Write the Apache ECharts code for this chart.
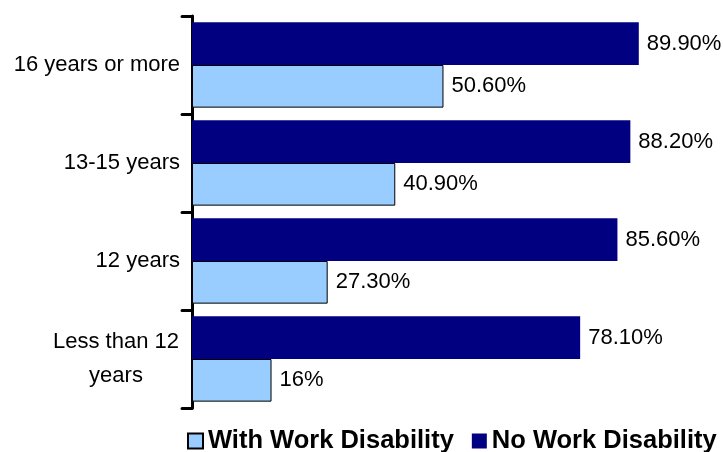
<!DOCTYPE html>
<html>
<head>
<meta charset="utf-8">
<script src="https://cdn.jsdelivr.net/npm/echarts@6/dist/echarts.min.js"></script>
<style>
  html, body { margin: 0; padding: 0; background: #fff; }
  #chart { width: 723px; height: 452px; }
</style>
</head>
<body>
<div id="chart"></div>
<script>
// categories bottom -> top
const categories = ['Less than 12\nyears', '12 years', '13-15 years', '16 years or more']
const withDisability = [16, 27.3, 40.9, 50.6]
const noDisability = [78.1, 85.6, 88.2, 89.9]

const chart = echarts.init(document.getElementById('chart'))

const fmtPct = (v) => (v % 1 === 0 ? v : v.toFixed(2)) + '%'

const labelFont = {
    fontFamily: '"Liberation Sans", Arial, sans-serif',
    fontSize: 22,
    color: '#000'
}

const option = {
    backgroundColor: '#fff',
    animation: false,
    grid: {
        left: 192,
        right: 34,
        top: 16,
        bottom: 44
    },
    legend: {
        left: 182,
        top: 423,
        icon: 'rect',
        itemWidth: 15,
        itemHeight: 15,
        itemGap: 18,
        textStyle: {
            fontFamily: '"Liberation Sans", Arial, sans-serif',
            fontWeight: 'bold',
            fontSize: 25.5,
            color: '#000'
        },
        data: ['With Work Disability', 'No Work Disability']
    },
    xAxis: {
        type: 'value',
        min: 0,
        max: 100,
        show: false
    },
    yAxis: {
        type: 'category',
        data: categories,
        axisLine: {
            lineStyle: { color: '#000', width: 3, cap: 'round' }
        },
        axisTick: {
            show: true,
            length: 10,
            lineStyle: { color: '#000', width: 3, cap: 'round' }
        },
        axisLabel: {
            margin: 12,
            ...labelFont,
            lineHeight: 34,
            formatter: function (v) {
                if (v.indexOf('\n') >= 0) {
                    return v.split('\n').map(s => '{c|' + s + '}').join('\n')
                }
                return v
            },
            rich: {
                c: { ...labelFont, width: 128, align: 'center', lineHeight: 34 }
            }
        }
    },
    series: [
        {
            name: 'No Work Disability',
            type: 'bar',
            data: noDisability,
            barGap: 0,
            barCategoryGap: '13%',
            itemStyle: { color: '#000080' },
            label: {
                show: true,
                position: 'right',
                distance: 8,
                ...labelFont,
                formatter: p => fmtPct(p.value)
            }
        },
        {
            name: 'With Work Disability',
            type: 'bar',
            data: withDisability,
            barGap: 0,
            barCategoryGap: '13%',
            itemStyle: { color: '#99CCFF', borderColor: '#000', borderWidth: 1 },
            label: {
                show: true,
                position: 'right',
                distance: 8,
                ...labelFont,
                formatter: p => fmtPct(p.value)
            }
        }
    ]
}

chart.setOption(option)
</script>
</body>
</html>
